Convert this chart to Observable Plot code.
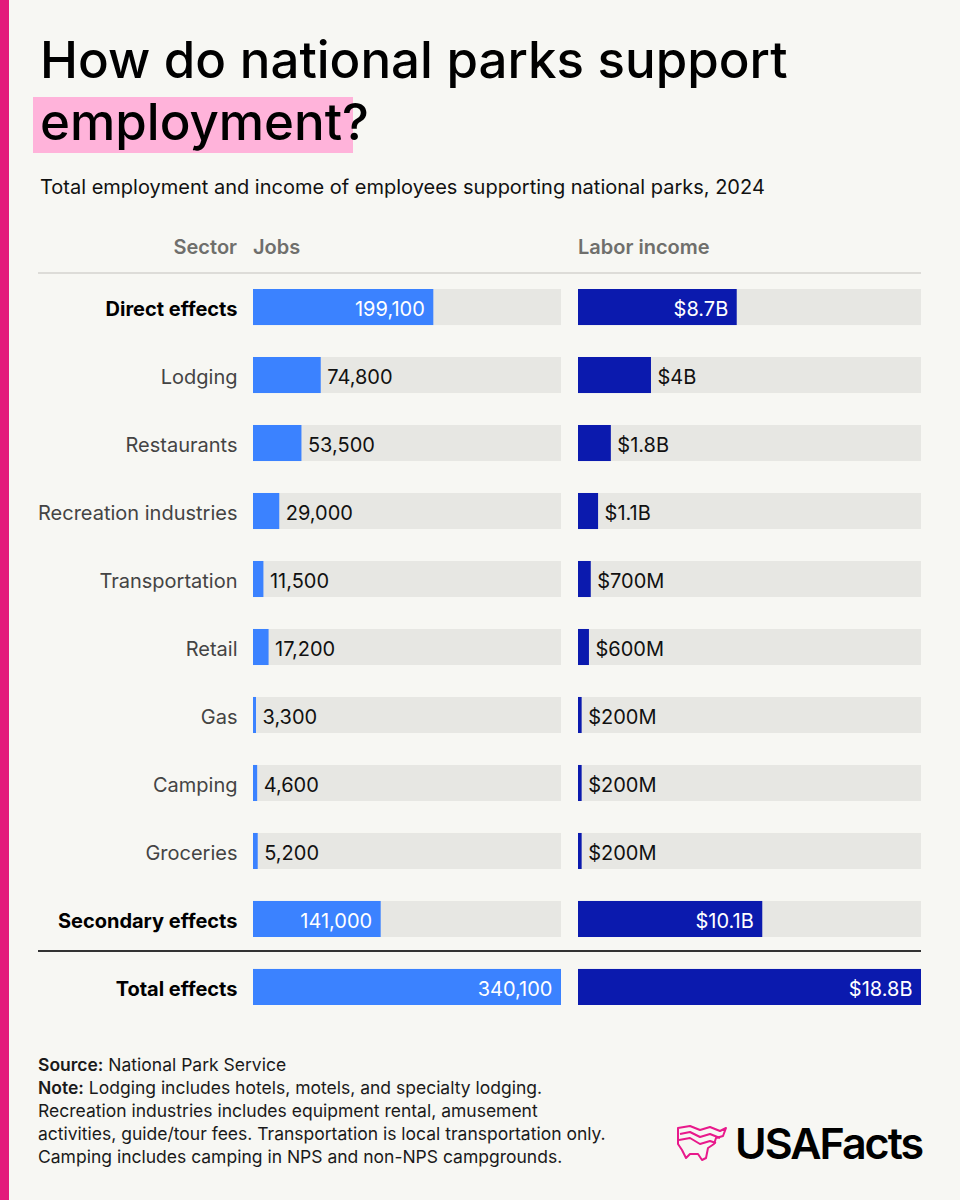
<!DOCTYPE html>
<html><head><meta charset="utf-8">
<script src="https://cdn.jsdelivr.net/npm/d3@7"></script>
<script src="https://cdn.jsdelivr.net/npm/@observablehq/plot@0.6"></script>
<style>
body{margin:0;background:#f7f7f3;font-family:Inter,"Noto Sans",sans-serif;}
#page{position:relative;width:960px;height:1200px;background:#f7f7f3;overflow:hidden}
.abs{position:absolute;white-space:nowrap}
#stripe{left:0;top:0;width:9px;height:1200px;background:#e31b7b}
.title{left:40px;font-size:51px;font-weight:500;letter-spacing:0px;color:#000;line-height:50px}
#hl{left:33px;top:97px;width:320px;height:56px;background:#ffb3da}
#sub{left:40px;top:175px;font-size:20px;color:#111;letter-spacing:0px}
.hdr{top:235px;font-size:20px;font-weight:600;color:#6f6f6c}
#line1{left:38px;top:272px;width:883px;height:2px;background:#dddcd8}
#line2{left:38px;top:950px;width:883px;height:2px;background:#333}
#foot{left:38px;top:1053px;font-size:17.5px;line-height:23px;color:#1a1a1a;letter-spacing:0px}
#logo{left:735px;top:1118px;font-size:43px;font-weight:600;letter-spacing:-2px;color:#000;line-height:50px}
#chart svg{position:absolute;left:0;top:260px}
</style></head>
<body><div id="page">
<div id="stripe" class="abs"></div>
<div id="hl" class="abs"></div>
<div class="abs title" style="top:35px">How do national parks support</div>
<div class="abs title" style="top:97px">employment?</div>
<div id="sub" class="abs">Total employment and income of employees supporting national parks, 2024</div>
<div class="abs hdr" style="right:723px">Sector</div>
<div class="abs hdr" style="left:253px">Jobs</div>
<div class="abs hdr" style="left:578px">Labor income</div>
<div id="line1" class="abs"></div>
<div id="line2" class="abs"></div>
<div id="foot" class="abs"><b style="font-weight:600">Source:</b> National Park Service<br><b style="font-weight:600">Note:</b> Lodging includes hotels, motels, and specialty lodging.<br>Recreation industries includes equipment rental, amusement<br>activities, guide/tour fees. Transportation is local transportation only.<br>Camping includes camping in NPS and non-NPS campgrounds.</div>
<svg class="abs" style="left:676px;top:1124px" width="52" height="40" viewBox="0 0 52 40" fill="none" stroke="#e8198b" stroke-width="2" stroke-linejoin="round">
<path d="M2 4 L14 2 L24 6 L34 3 L44 7 L50 4 L47 12 L40 14 L38 20 L32 24 L30 34 L26 36 L22 30 L14 30 L10 34 L6 26 L2 20 Z"/>
<path d="M4 10 L14 8 L24 13 L34 10 L44 14"/>
<path d="M3 16 L14 14 L24 20 L34 17 L40 19"/>
</svg>
<div id="logo" class="abs">USAFacts</div>
<div id="chart"></div>
</div>
<script>
const sectors = ["Direct effects","Lodging","Restaurants","Recreation industries","Transportation","Retail","Gas","Camping","Groceries","Secondary effects","Total effects"];
const jobs = [199100,74800,53500,29000,11500,17200,3300,4600,5200,141000,340100];
const income = [8.7,4,1.8,1.1,0.7,0.6,0.2,0.2,0.2,10.1,18.8];
const incomeLabels = ["$8.7B","$4B","$1.8B","$1.1B","$700M","$600M","$200M","$200M","$200M","$10.1B","$18.8B"];
const boldSectors = ["Direct effects","Secondary effects","Total effects"];

const fmt = d3.format(",");
const rows = sectors.map((s,i)=>({sector:s, jobs:jobs[i], income:income[i], jobsLabel:fmt(jobs[i]), incomeLabel:incomeLabels[i], bold:boldSectors.includes(s)}));
const plain = rows.filter(d=>!d.bold), strong = rows.filter(d=>d.bold);
const jobsMax = d3.max(jobs), incomeMax = d3.max(income);

const common = {
  height: 760, marginTop: 29, marginBottom: 15,
  y: {domain: sectors, paddingInner: 0.47, paddingOuter: 0, round: false, axis: null},
  style: {background: "transparent", fontFamily: "Inter, 'Noto Sans', sans-serif", fontSize: "20px", overflow: "visible"}
};

const jobsPlot = Plot.plot({
  ...common, width: 580, marginLeft: 253, marginRight: 19,
  x: {domain: [0, jobsMax], axis: null},
  marks: [
    Plot.barX(rows, {y: "sector", x: () => jobsMax, fill: "#e7e7e3"}),
    Plot.barX(rows, {y: "sector", x: "jobs", fill: "#3b82ff"}),
    Plot.text(plain, {y: "sector", x: "jobs", text: "jobsLabel", textAnchor: "start", dx: 6, dy: 2, fill: "#111", fontSize: 20}),
    Plot.text(strong, {y: "sector", x: "jobs", text: "jobsLabel", textAnchor: "end", dx: -9, dy: 2, fill: "#fff", fontSize: 20}),
    Plot.text(plain, {y: "sector", frameAnchor: "left", text: "sector", textAnchor: "end", dx: -16, dy: 2, fill: "#444", fontSize: 20}),
    Plot.text(strong, {y: "sector", frameAnchor: "left", text: "sector", textAnchor: "end", dx: -16, dy: 2, fill: "#000", fontSize: 20, fontWeight: 700})
  ]
});

const incomePlot = Plot.plot({
  ...common, width: 960, marginLeft: 578, marginRight: 39,
  x: {domain: [0, incomeMax], axis: null},
  marks: [
    Plot.barX(rows, {y: "sector", x: () => incomeMax, fill: "#e7e7e3"}),
    Plot.barX(rows, {y: "sector", x: "income", fill: "#0b1aae"}),
    Plot.text(plain, {y: "sector", x: "income", text: "incomeLabel", textAnchor: "start", dx: 6, dy: 2, fill: "#111", fontSize: 20}),
    Plot.text(strong, {y: "sector", x: "income", text: "incomeLabel", textAnchor: "end", dx: -9, dy: 2, fill: "#fff", fontSize: 20})
  ]
});

const chart = document.getElementById("chart");
chart.append(jobsPlot, incomePlot);
</script>
</body></html>
